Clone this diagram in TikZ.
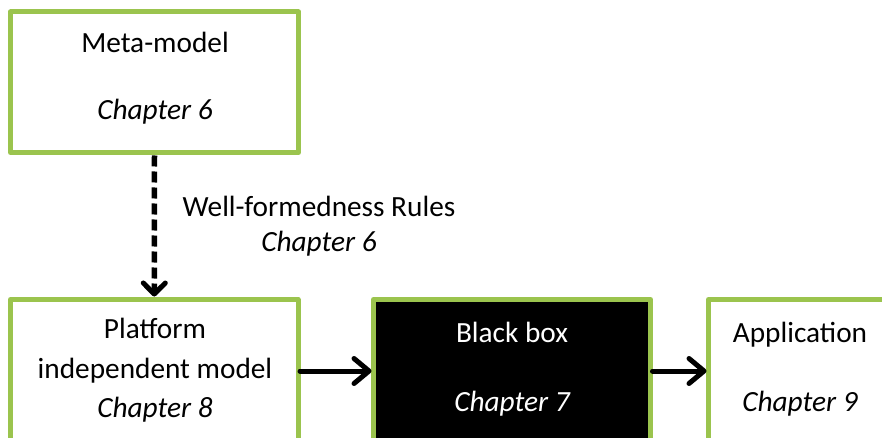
\documentclass[tikz,border=0pt]{standalone}
\usepackage{fontspec}
\setmainfont{Carlito}
\usetikzlibrary{arrows.meta}
\definecolor{boxgreen}{RGB}{155,196,78}
\begin{document}
\begin{tikzpicture}[x=1pt,y=-1pt,
  gbox/.style={draw=boxgreen, line width=5pt, line join=round, fill=white,
    inner sep=0pt, outer sep=0pt},
  bbox/.style={gbox, fill=black},
  lbl/.style={anchor=base, inner sep=0pt, font=\fontsize{29.3}{35}\selectfont},
  wlbl/.style={lbl, text=white},
  flow/.style={line width=5pt, line cap=round,
    -{Straight Barb[length=15pt,width=25pt,line width=5pt,round]}},
  rule/.style={line width=5.5pt, dash pattern=on 11pt off 5pt,
    -{Straight Barb[length=11pt,width=22pt,line width=5pt,round]}}]
\useasboundingbox (0,0) rectangle (882,438);
\clip (0,0) rectangle (882,438);
\fill[white] (0,0) rectangle (882,438);

% boxes
\node[gbox, minimum width=288pt, minimum height=140.5pt] (meta) at (154.5,82.25) {};
\node[gbox, minimum width=287.5pt, minimum height=170.5pt] (pim) at (154.25,384.75) {};
\node[bbox, minimum width=277pt, minimum height=170.5pt] (bb) at (512,384.75) {};
\node[gbox, minimum width=211.5pt, minimum height=170.5pt] (app) at (814.25,384.75) {};

% box texts
\node[lbl] (metaT) at (155,52.5) {Meta-model};
\node[lbl] (metaC) at (155,120) {\itshape Chapter 6};
\node[lbl] (pimT1) at (155,338.5) {Platform};
\node[lbl] (pimT2) at (155,378) {independent model};
\node[lbl] (pimC) at (155,417) {\itshape Chapter 8};
\node[wlbl] (bbT) at (512,342) {Black box};
\node[wlbl] (bbC) at (512,411) {\itshape Chapter 7};
\node[lbl] (appT) at (800,342) {Application};
\node[lbl] (appC) at (800,411) {\itshape Chapter 9};

% rule label
\node[lbl] (wfT) at (319,216) {Well-formedness Rules};
\node[lbl] (wfC) at (319,251) {\itshape Chapter 6};

% connectors
\draw[rule] ([yshift=-3pt]meta.south) -- ([yshift=3pt]pim.north);
\draw[flow] ([xshift=2pt,yshift=13.75pt]pim.east) -- ([xshift=-2pt,yshift=13.75pt]bb.west);
\draw[flow] ([xshift=2pt,yshift=13.75pt]bb.east) -- ([xshift=-2pt,yshift=13.75pt]app.west);
\end{tikzpicture}
\end{document}
